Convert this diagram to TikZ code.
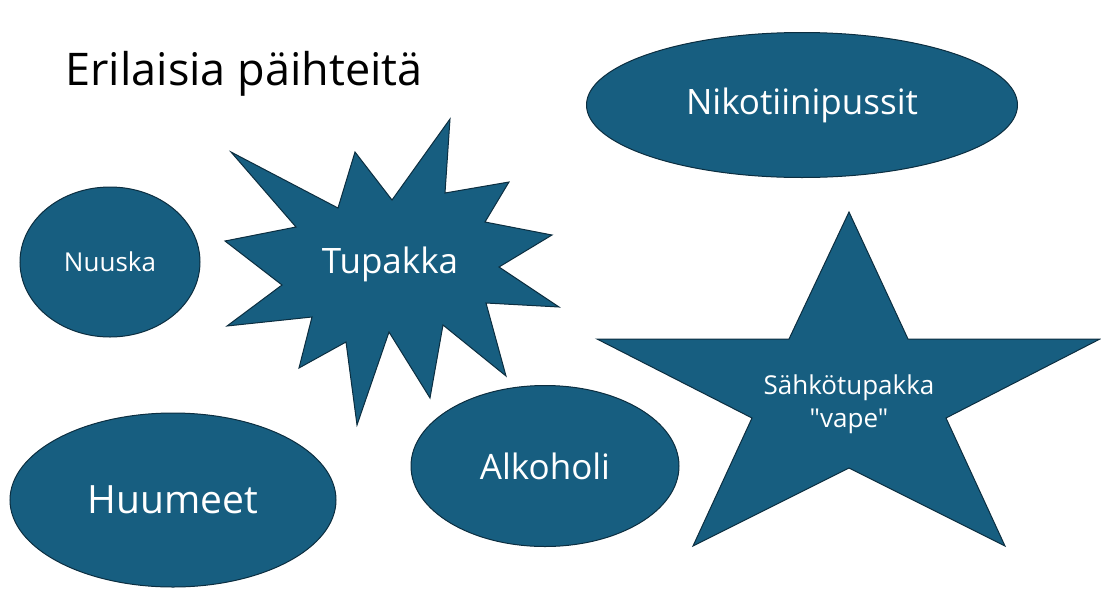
\documentclass[tikz,border=0pt]{standalone}
\usepackage{fontspec}
\setmainfont{Open Sans}
\newfontfamily\shapefont{Open Sans}
\definecolor{shapeFill}{RGB}{23, 94, 128}
\definecolor{shapeLine}{RGB}{12, 46, 64}
\usetikzlibrary{shapes.geometric, positioning}

\begin{document}
\begin{tikzpicture}[x=1pt, y=-1pt,
        blob/.style={draw=shapeLine, line width=1pt, fill=shapeFill},
        oval/.style={blob, ellipse, inner sep=0pt, text=white},
        label/.style={text=white, align=center}]
        \useasboundingbox (0,0) rectangle (1101,595);

        % Title
        \node[font=\fontsize{45}{50}\selectfont, anchor=west] (title) at (62,74) {Erilaisia päihteitä};

        % Ellipses
        \node[oval, minimum width=180pt, minimum height=150pt,
              font=\shapefont\fontsize{26}{30}\selectfont] (nuuska) at (110,262) {Nuuska};
        \node[oval, minimum width=431pt, minimum height=145pt,
              font=\shapefont\fontsize{35}{40}\selectfont] (nikotiini) at (802,105) {Nikotiinipussit};
        \node[oval, minimum width=326pt, minimum height=174pt,
              font=\shapefont\fontsize{39}{44}\selectfont] (huumeet) at (173,500) {Huumeet};
        \node[oval, minimum width=268pt, minimum height=161pt,
              font=\shapefont\fontsize{35}{40}\selectfont] (alkoholi) at (545,466) {Alkoholi};

        % Burst shape behind Tupakka
        \draw[blob] (231,152) -- (338,208) -- (355,152) -- (392,200) -- (450,119)
            -- (445,193) -- (509,182) -- (485,222) -- (552,235) -- (499,267)
            -- (559,307) -- (486,303) -- (506,376) -- (443,325) -- (430,398)
            -- (389,332) -- (357,425) -- (346,342) -- (299,368) -- (312,317)
            -- (227,326) -- (282,285) -- (225,241) -- (296,227) -- cycle;
        \node[label, font=\shapefont\fontsize{35}{40}\selectfont] (tupakka) at (390,264) {Tupakka};

        % Five point star for the vape
        \draw[blob] (849,212) -- (908,339) -- (1100,339) -- (946,418) -- (1005,546)
            -- (849,468) -- (693,546) -- (752,418) -- (597,339) -- (789,339) -- cycle;
        \node[label, font=\shapefont\fontsize{26}{33}\selectfont] (vape) at (849,404)
            {Sähkötupakka\\"vape"};
    \end{tikzpicture}
\end{document}
